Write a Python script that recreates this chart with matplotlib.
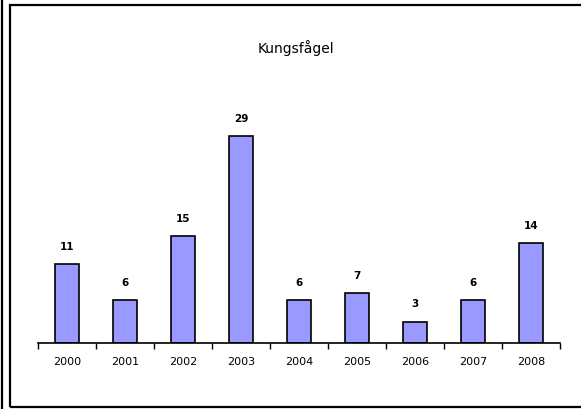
import matplotlib.pyplot as plt
from matplotlib.patches import Rectangle

# Kungsfågel counts per year
years = ['2000', '2001', '2002', '2003', '2004', '2005', '2006', '2007', '2008']
counts = [11, 6, 15, 29, 6, 7, 3, 6, 14]

fig = plt.figure(figsize=(5.81, 4.09), dpi=100)
ax = fig.add_axes([38 / 581, 1 - 343 / 409, 522 / 581, 250 / 409])

x = range(len(years))
bars = ax.bar(x, counts, width=0.4, color='#9999FF', edgecolor='black', linewidth=1.2)
for b, v in zip(bars, counts):
    ax.text(b.get_x() + b.get_width() / 2, v + 2.4, str(v), ha='center', va='center',
            fontsize=7.5, fontweight='bold')

ax.set_xlim(-0.5, len(years) - 0.5)
ax.set_ylim(0, 35)
ax.set_xticks([i - 0.5 for i in range(len(years) + 1)], minor=False)
ax.set_xticklabels([])
ax.set_xticks(list(x), minor=True)
ax.set_xticklabels(years, minor=True, fontsize=8)
ax.tick_params(axis='x', which='major', direction='out', length=4, width=1)
ax.tick_params(axis='x', which='minor', length=0, pad=10)
ax.set_yticks([])
for s in ['top', 'right', 'left']:
    ax.spines[s].set_visible(False)
ax.spines['bottom'].set_linewidth(1.2)

fig.text(296 / 581, 1 - 48 / 409, 'Kungsfågel', ha='center', va='center', fontsize=10)

# outer frame and the edge of the neighbouring frame
fig.add_artist(Rectangle((10 / 581, 1 - 407 / 409), 575 / 581, 402 / 409,
                         transform=fig.transFigure, fill=False, edgecolor='black', linewidth=1.6))
fig.add_artist(plt.Line2D([2.5 / 581, 2.5 / 581], [0, 1], transform=fig.transFigure,
                          color='black', linewidth=1.6))

fig.savefig('out.png', dpi=100)
